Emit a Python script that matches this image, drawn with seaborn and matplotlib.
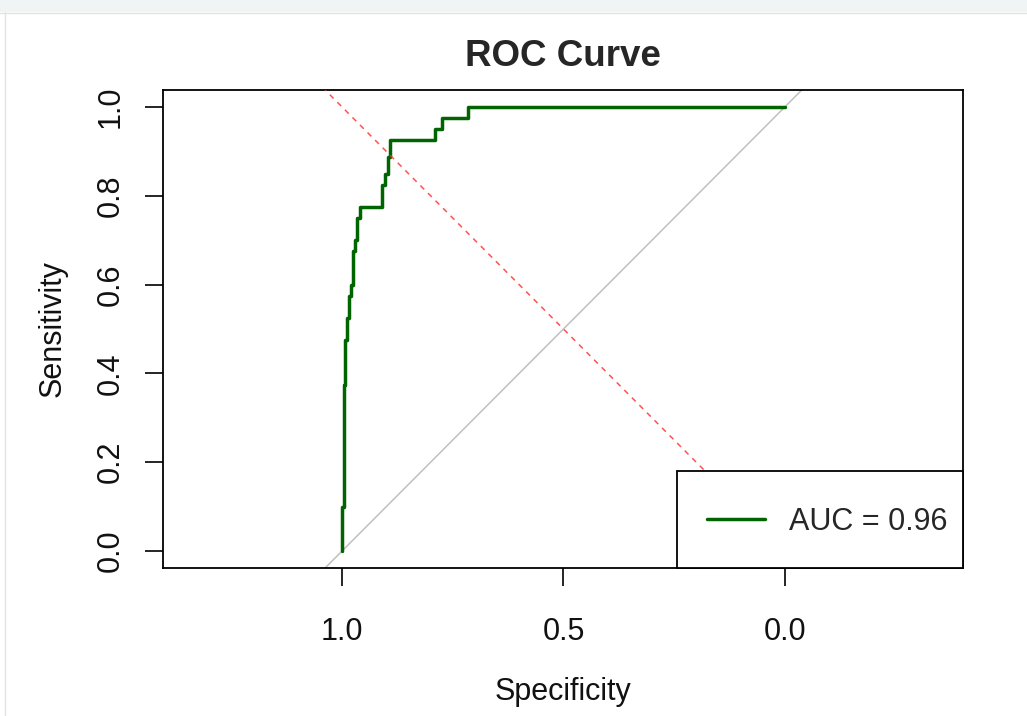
import matplotlib
matplotlib.use("Agg")
import matplotlib.pyplot as plt
import seaborn as sns
import pandas as pd
from matplotlib.patches import Rectangle
from matplotlib.lines import Line2D

# ---- data ----
specificity = [1.000, 1.000, 0.996, 0.996, 0.993, 0.993, 0.989, 0.989, 0.984, 0.984,
               0.980, 0.980, 0.974, 0.974, 0.971, 0.971, 0.965, 0.965, 0.959, 0.959,
               0.910, 0.910, 0.902, 0.902, 0.896, 0.896, 0.892, 0.892, 0.790, 0.790,
               0.774, 0.774, 0.716, 0.716, 0.000]
sensitivity = [0.000, 0.100, 0.100, 0.375, 0.375, 0.475, 0.475, 0.525, 0.525, 0.575,
               0.575, 0.600, 0.600, 0.675, 0.675, 0.700, 0.700, 0.750, 0.750, 0.775,
               0.775, 0.825, 0.825, 0.850, 0.850, 0.888, 0.888, 0.925, 0.925, 0.950,
               0.950, 0.975, 0.975, 1.000, 1.000]
auc_label = "AUC = 0.96"
x_ticks = [1.0, 0.5, 0.0]
x_ticklabels = ["1.0", "0.5", "0.0"]
y_ticks = [0.0, 0.2, 0.4, 0.6, 0.8, 1.0]
y_ticklabels = ["0.0", "0.2", "0.4", "0.6", "0.8", "1.0"]

roc = pd.DataFrame({"Specificity": specificity, "Sensitivity": sensitivity})

sns.set_style("white")
plt.rcParams["font.family"] = ["Liberation Sans", "DejaVu Sans"]

fig = plt.figure(figsize=(10.27, 7.16), dpi=100)
ax = fig.add_axes([163 / 1027, 1 - 568 / 716, 800 / 1027, 478 / 716])

# chance diagonal (gray) and sens = spec reference (red dashed)
ax.axline((1, 0), (0, 1), color="#c0c0c0", lw=1.1, zorder=1)
sns.lineplot(data=roc, x="Specificity", y="Sensitivity", sort=False, estimator=None,
             color="#006400", lw=2.5, ax=ax, zorder=2)
ax.axline((0, 0), (1, 1), color="#ff3333", lw=1.1, ls=(0, (3.5, 3.5)), alpha=0.85, zorder=3)

ax.set_xlim(1.404, -0.402)
ax.set_ylim(-0.038, 1.038)

ax.set_xticks(x_ticks)
ax.set_xticklabels(x_ticklabels)
ax.set_yticks(y_ticks)
ax.set_yticklabels(y_ticklabels)
ax.tick_params(axis="both", direction="out", length=13, width=1.2, color="black",
               labelsize=22, labelcolor="#111111", bottom=True, left=True)
ax.tick_params(axis="x", pad=22)
ax.tick_params(axis="y", pad=14, labelrotation=90)
for lab in ax.get_yticklabels():
    lab.set_va("center")

for sp in ax.spines.values():
    sp.set_visible(True)
    sp.set_color("black")
    sp.set_linewidth(1.3)

ax.set_xlabel("Specificity", fontsize=22, color="#111111")
ax.xaxis.set_label_coords(0.5, (568 - 700) / 478)
ax.xaxis.label.set_va("baseline")
ax.set_ylabel("Sensitivity", fontsize=22, color="#111111")
ax.yaxis.set_label_coords((53 - 163) / 800, 0.5)
ax.yaxis.label.set_va("center")

ax.set_title("ROC Curve", fontsize=26.5, fontweight="bold", y=(568 - 66) / 478,
             va="baseline", pad=0)

# legend box (R style: box flush with bottom-right corner)
ax.add_patch(Rectangle(((677 - 163) / 800, 0), 286 / 800, 97 / 478, transform=ax.transAxes,
                       facecolor="white", edgecolor="black", lw=1.3, zorder=4,
                       clip_on=False))
handle = Line2D([], [], color="#006400", lw=2.5)
leg = ax.legend([handle], [auc_label], loc="center",
                bbox_to_anchor=((827 - 163) / 800, (568 - 522) / 478),
                borderaxespad=0, borderpad=0, fontsize=22, frameon=False,
                handlelength=1.9, handletextpad=0.8)
leg.set_zorder(5)

# window chrome of the screenshot
fig.patches.append(Rectangle((0, 1 - 12 / 716), 1, 12 / 716, transform=fig.transFigure,
                             facecolor="#f1f4f5", edgecolor="none", zorder=0))
fig.lines.append(Line2D([0, 1], [1 - 12.5 / 716] * 2, transform=fig.transFigure,
                        color="#dde2e4", lw=1))
fig.lines.append(Line2D([5 / 1027] * 2, [0, 1 - 12 / 716], transform=fig.transFigure,
                        color="#e3e3e3", lw=1))

fig.savefig("out.png", dpi=100)
